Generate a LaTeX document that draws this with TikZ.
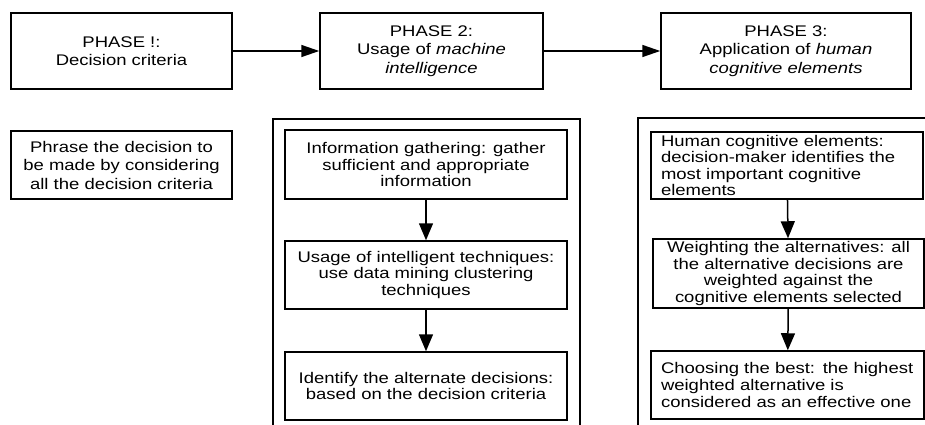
\documentclass[tikz,border=0pt]{standalone}
\usepackage{fontspec}
\setmainfont{Liberation Sans}[FakeStretch=1.2]
\usetikzlibrary{arrows.meta}
\begin{document}
\begin{tikzpicture}[x=1pt,y=-1pt,
  box/.style={draw,line width=1.5pt,rectangle,inner sep=0pt,align=center,
    font=\fontsize{15.4}{18.5}\selectfont},
  ibox/.style={box,font=\fontsize{15.4}{16.6}\selectfont},
  lbox/.style={ibox,align=left},
  frame/.style={line width=1.5pt},
  arr/.style={line width=1.5pt,-{Triangle[length=18pt,width=12pt]}},
  varr/.style={line width=1.5pt,-{Triangle[length=17pt,width=14pt]}}]
\useasboundingbox (0,0) rectangle (925,425);
% phase headers
\node[box,minimum width=221pt,minimum height=76pt] (p1) at (121.5,51) {PHASE !:\\Decision criteria};
\node[box,minimum width=223pt,minimum height=76pt] (p2) at (431.5,51) {PHASE 2:\\Usage of \textit{machine}\\\textit{intelligence}};
\node[box,minimum width=250pt,minimum height=76pt] (p3) at (786,51) {PHASE 3:\\Application of \textit{human}\\\textit{cognitive elements}};
\draw[arr] (p1) -- (p2);
\draw[arr] (p2) -- (p3);
% phase 1 body
\node[box,minimum width=221pt,minimum height=68pt] (ph) at (121.5,165) {Phrase the decision to\\be made by considering\\all the decision criteria};
% phase 2 container
\draw[frame] (273,426) -- (273,119) -- (580,119) -- (580,426);
\node[ibox,minimum width=282pt,minimum height=69pt] (b21) at (426,164.5) {Information gathering: gather\\sufficient and appropriate\\information};
\node[ibox,minimum width=282pt,minimum height=68pt] (b22) at (426,275) {Usage of intelligent techniques:\\use data mining clustering\\techniques};
\node[ibox,minimum width=282pt,minimum height=68pt] (b23) at (426,386) {Identify the alternate decisions:\\based on the decision criteria};
\draw[varr] (b21) -- (b22);
\draw[varr] (b22) -- (b23);
% phase 3 container
\draw[frame] (638,426) -- (638,118) -- (926,118);
\node[lbox,minimum width=272pt,minimum height=67pt,text width=252pt] (b31) at (787,165.5) {Human cognitive elements:\\decision-maker identifies the\\most important cognitive\\elements};
\node[ibox,minimum width=271pt,minimum height=69pt] (b32) at (788.5,273.5) {Weighting the alternatives: all\\the alternative decisions are\\weighted against the\\cognitive elements selected};
\node[lbox,minimum width=273pt,minimum height=68pt,text width=253pt] (b33) at (787.5,385) {Choosing the best: the highest\\weighted alternative is\\considered as an effective one};
\draw[varr] (b31) -- (b32);
\draw[varr] (b32) -- (b33);
\end{tikzpicture}
\end{document}
